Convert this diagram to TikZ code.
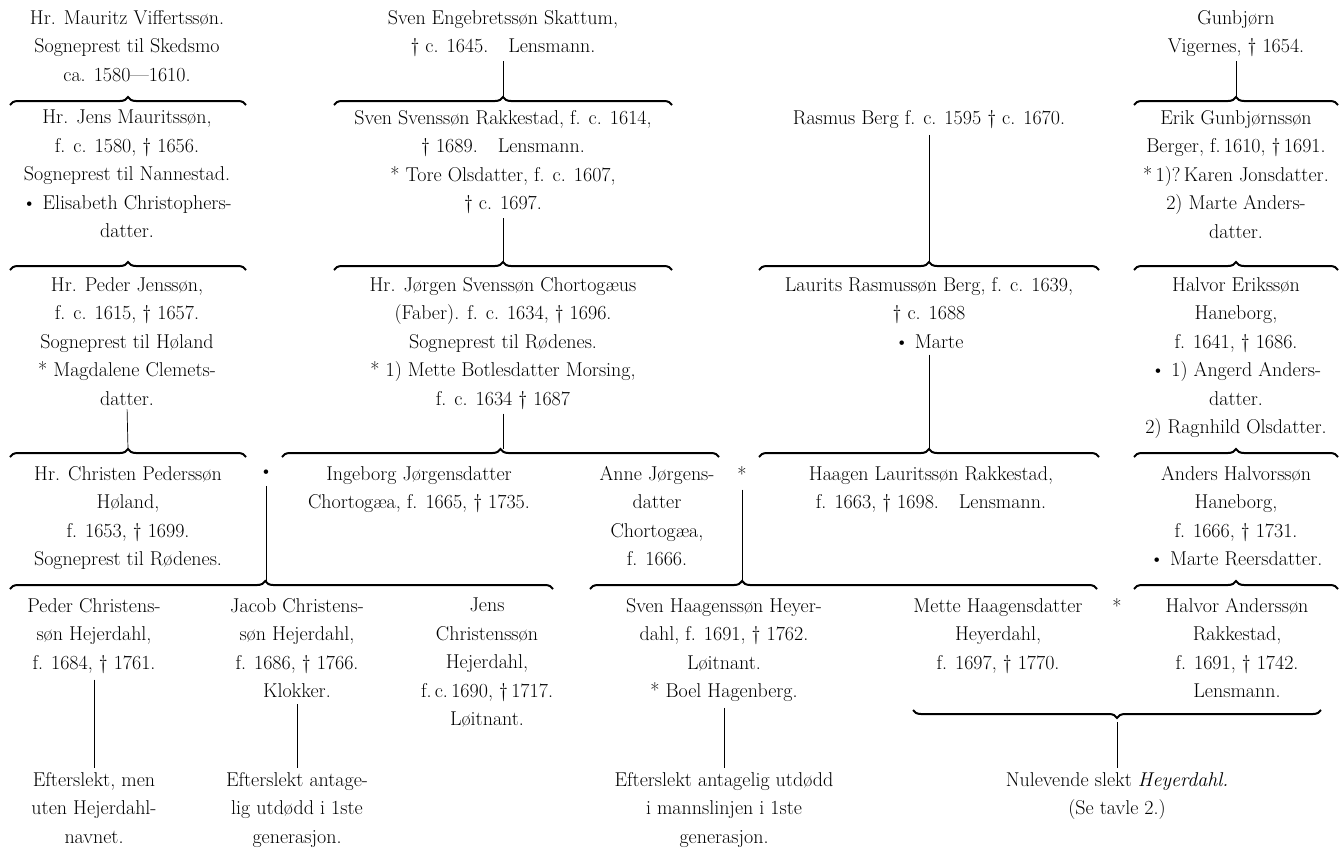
\documentclass[tikz,border=0pt]{standalone}
\usepackage{tikz}
\usetikzlibrary{decorations.pathreplacing}

\newcommand{\tavlefont}{\fontsize{20}{28.5}\selectfont}

\begin{document}
\begin{tikzpicture}[x=1pt,y=-1pt,
  person/.style={anchor=north, align=center, inner sep=0pt, font=\tavlefont},
  gift/.style={inner sep=0pt, font=\tavlefont},
  krull/.style={decorate, decoration={brace, amplitude=8pt}, line width=2pt},
  stem/.style={line width=0.7pt}]
  \useasboundingbox (0,0) rectangle (1339,847);

  % Generation 1
  \node[person] (mauritz) at (127,10) {Hr. Mauritz Viffertssøn.\\ Sogneprest til Skedsmo\\ ca. 1580—1610.};
  \node[person] (skattum) at (503,10) {Sven Engebretssøn Skattum,\\ † c. 1645.\quad Lensmann.};
  \node[person] (gunbjorn) at (1236,10) {Gunbjørn\\ Vigernes, † 1654.};

  % Braces below generation 1
  \draw[krull] (10,105) -- (246,105);
  \draw[krull] (334,105) -- (672,105);
  \draw[krull] (1134,105) -- (1338,105);
  \coordinate (kB1) at (503,97);
  \coordinate (kG1) at (1236,97);

  % Generation 2
  \node[person] (jens) at (127,110) {Hr. Jens Mauritssøn,\\ f. c. 1580, † 1656.\\ Sogneprest til Nannestad.\\ • Elisabeth Christophers-\\ datter.};
  \node[person] (svenS) at (503,110) {Sven Svenssøn Rakkestad, f. c. 1614,\\ † 1689.\quad Lensmann.\\ * Tore Olsdatter, f. c. 1607,\\ † c. 1697.};
  \node[person] (rasmus) at (929,110) {Rasmus Berg f. c. 1595 † c. 1670.};
  \node[person] (erik) at (1236,110) {Erik Gunbjørnssøn\\ Berger, f.\,1610, †\,1691.\\ *\,1)?\,Karen Jonsdatter.\\ 2) Marte Anders-\\ datter.};

  % Braces below generation 2
  \draw[krull] (10,270) -- (246,270);
  \draw[krull] (334,270) -- (672,270);
  \draw[krull] (759,270) -- (1099,270);
  \draw[krull] (1134,270) -- (1338,270);
  \coordinate (kB2) at (503,262);
  \coordinate (kL2) at (929,262);

  % Generation 3
  \node[person] (peder) at (127,277) {Hr. Peder Jenssøn,\\ f. c. 1615, † 1657.\\ Sogneprest til Høland\\ * Magdalene Clemets-\\ datter.};
  \node[person] (jorgen) at (503,277) {Hr. Jørgen Svenssøn Chortogæus\\ (Faber). f. c. 1634, † 1696.\\ Sogneprest til Rødenes.\\ * 1) Mette Botlesdatter Morsing,\\ f. c. 1634 † 1687};
  \node[person] (laurits) at (929,277) {Laurits Rasmussøn Berg, f. c. 1639,\\ † c. 1688\\ • Marte};
  \node[person] (halvorE) at (1236,277) {Halvor Erikssøn\\ Haneborg,\\ f. 1641, † 1686.\\ • 1) Angerd Anders-\\ datter.\\ 2) Ragnhild Olsdatter.};

  % Braces below generation 3
  \draw[krull] (10,457) -- (246,457);
  \draw[krull] (282,457) -- (719,457);
  \draw[krull] (759,457) -- (1099,457);
  \draw[krull] (1134,457) -- (1338,457);
  \coordinate (kA3) at (128,449);
  \coordinate (kB3) at (503,449);
  \coordinate (kH3) at (929,449);

  % Generation 4
  \node[person] (christen) at (128,466) {Hr. Christen Pederssøn\\ Høland,\\ f. 1653, † 1699.\\ Sogneprest til Rødenes.};
  \node[gift] (marC) at (266,474) {•};
  \node[person] (ingeborg) at (419,466) {Ingeborg Jørgensdatter\\ Chortogæa, f. 1665, † 1735.};
  \node[person] (anne) at (657,466) {Anne Jørgens-\\ datter\\ Chortogæa,\\ f. 1666.};
  \node[gift] (marA) at (742,474) {*};
  \node[person] (haagen) at (931,466) {Haagen Lauritssøn Rakkestad,\\ f. 1663, † 1698.\quad Lensmann.};
  \node[person] (anders) at (1236,466) {Anders Halvorssøn\\ Haneborg,\\ f. 1666, † 1731.\\ • Marte Reersdatter.};

  % Braces below generation 4
  \draw[krull, decoration={aspect=0.47}] (10,589) -- (553,589);
  \draw[krull, decoration={aspect=0.30}] (590,589) -- (1097,589);
  \draw[krull] (1134,589) -- (1338,589);
  \coordinate (kC4) at (266,581);
  \coordinate (kH4) at (742,581);

  % Generation 5
  \node[person] (pederC) at (94,598) {Peder Christens-\\ søn Hejerdahl,\\ f. 1684, † 1761.};
  \node[person] (jacob) at (297,598) {Jacob Christens-\\ søn Hejerdahl,\\ f. 1686, † 1766.\\ Klokker.};
  \node[person] (jensC) at (487,598) {Jens\\ Christenssøn\\ Hejerdahl,\\ f.\,c.\,1690, †\,1717.\\ Løitnant.};
  \node[person] (svenH) at (724,598) {Sven Haagenssøn Heyer-\\ dahl, f. 1691, † 1762.\\ Løitnant.\\ * Boel Hagenberg.};
  \node[person] (mette) at (998,598) {Mette Haagensdatter\\ Heyerdahl,\\ f. 1697, † 1770.};
  \node[gift] (marM) at (1117,606) {*};
  \node[person] (halvorA) at (1237,598) {Halvor Anderssøn\\ Rakkestad,\\ f. 1691, † 1742.\\ Lensmann.};

  \draw[krull, decoration={mirror}] (913,710) -- (1321,710);
  \coordinate (kN) at (1117,718);

  % Descendants
  \node[person] (eftA) at (94,772) {Efterslekt, men\\ uten Hejerdahl-\\ navnet.};
  \node[person] (eftB) at (297,772) {Efterslekt antage-\\ lig utdødd i 1ste\\ generasjon.};
  \node[person] (eftC) at (724,772) {Efterslekt antagelig utdødd\\ i mannslinjen i 1ste\\ generasjon.};
  \node[person] (nulev) at (1117,772) {Nulevende slekt \textit{Heyerdahl.}\\ (Se tavle 2.)};

  % Lines of descent
  \draw[stem, shorten <=4pt] (skattum.south) -- (kB1);
  \draw[stem, shorten <=4pt] (gunbjorn.south) -- (kG1);
  \draw[stem, shorten <=4pt] (svenS.south) -- (kB2);
  \draw[stem, shorten <=6pt] (rasmus.south) -- (kL2);
  \draw[stem, shorten <=4pt] (peder.south) -- (kA3);
  \draw[stem, shorten <=4pt] (jorgen.south) -- (kB3);
  \draw[stem, shorten <=6pt] (laurits.south) -- (kH3);
  \draw[stem, shorten <=8pt] (marC.south) -- (kC4);
  \draw[stem, shorten <=8pt] (marA.south) -- (kH4);
  \draw[stem, shorten <=6pt, shorten >=4pt] (pederC.south) -- (eftA.north);
  \draw[stem, shorten <=6pt, shorten >=4pt] (jacob.south) -- (eftB.north);
  \draw[stem, shorten <=6pt, shorten >=4pt] (svenH.south) -- (eftC.north);
  \draw[stem, shorten <=4pt, shorten >=4pt] (kN) -- (nulev.north);
\end{tikzpicture}
\end{document}
